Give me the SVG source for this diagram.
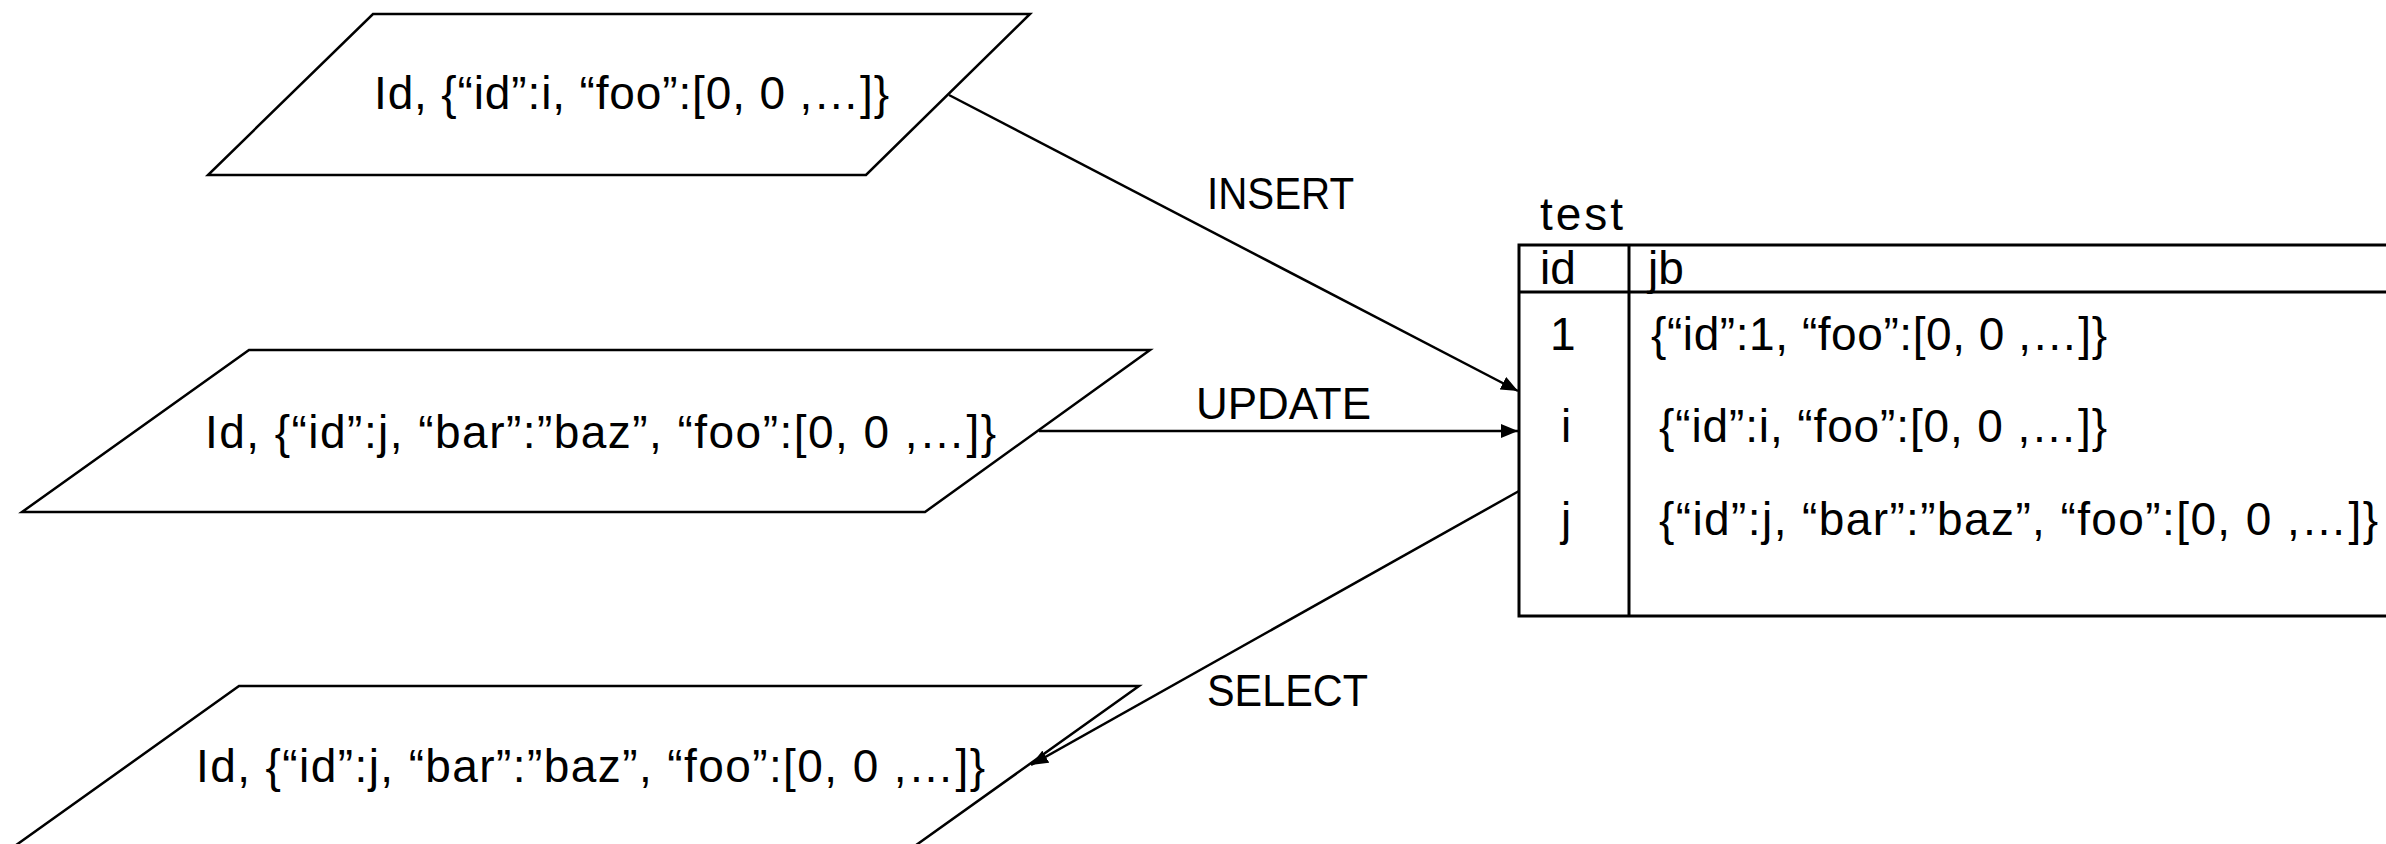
<svg xmlns="http://www.w3.org/2000/svg" width="2386" height="844" viewBox="0 0 2386 844">
  <style>
    .shape { fill: #ffffff; stroke: #000000; stroke-width: 2.5; }
    .tbl { fill: #ffffff; stroke: #000000; stroke-width: 3; }
    .tline { stroke: #000000; stroke-width: 3; fill: none; }
    .txt { font-family: "Liberation Sans", Arial, sans-serif; font-size: 46px; fill: #000000; }
    .lbl { font-family: "Liberation Sans", Arial, sans-serif; font-size: 44px; fill: #000000; }
    .edge { stroke: #000000; stroke-width: 2.5; fill: none; marker-end: url(#arrow); }
  </style>
  <defs>
    <marker id="arrow" markerUnits="userSpaceOnUse" markerWidth="18" markerHeight="14" refX="17" refY="7" orient="auto">
      <path d="M0,0 L17,7 L0,14 Z" fill="#000000"/>
    </marker>
  </defs>
  <rect width="2386" height="844" fill="#ffffff"/>

  <g id="node-insert-input">
    <polygon class="shape" points="373,14 1030,14 866,175 208,175"/>
    <text class="txt" x="374" y="109" textLength="515">Id, {“id”:i, “foo”:[0, 0 ,…]}</text>
  </g>

  <g id="node-update-input">
    <polygon class="shape" points="249,350 1150,350 925,512 22,512"/>
    <text class="txt" x="205" y="448" textLength="791">Id, {“id”:j, “bar”:”baz”, “foo”:[0, 0 ,…]}</text>
  </g>

  <g id="node-select-output">
    <polygon class="shape" points="239,686 1139,686 912,848 12,848"/>
    <text class="txt" x="196" y="782" textLength="789">Id, {“id”:j, “bar”:”baz”, “foo”:[0, 0 ,…]}</text>
  </g>

  <g id="node-table-test">
    <text class="txt" x="1540" y="230" textLength="83">test</text>
    <rect class="tbl" x="1519" y="245" width="900" height="371"/>
    <line class="tline" x1="1519" y1="292" x2="2400" y2="292"/>
    <line class="tline" x1="1629" y1="245" x2="1629" y2="616"/>
    <text class="txt" x="1540" y="284">id</text>
    <text class="txt" x="1648" y="284">jb</text>
    <text class="txt" x="1550" y="350">1</text>
    <text class="txt" x="1651" y="350" textLength="456">{“id”:1, “foo”:[0, 0 ,…]}</text>
    <text class="txt" x="1561" y="442">i</text>
    <text class="txt" x="1659" y="442" textLength="448">{“id”:i, “foo”:[0, 0 ,…]}</text>
    <text class="txt" x="1561" y="535">j</text>
    <text class="txt" x="1659" y="535" textLength="719">{“id”:j, “bar”:”baz”, “foo”:[0, 0 ,…]}</text>
  </g>

  <g id="connectors">
    <line class="edge" x1="949" y1="95" x2="1518" y2="391"/>
    <line class="edge" x1="1039" y1="431" x2="1518" y2="431"/>
    <line class="edge" x1="1519" y1="491" x2="1031" y2="765"/>
    <text class="lbl" x="1207" y="209" textLength="147" lengthAdjust="spacingAndGlyphs">INSERT</text>
    <text class="lbl" x="1196" y="419" textLength="175" lengthAdjust="spacingAndGlyphs">UPDATE</text>
    <text class="lbl" x="1207" y="706" textLength="161" lengthAdjust="spacingAndGlyphs">SELECT</text>
  </g>
</svg>
